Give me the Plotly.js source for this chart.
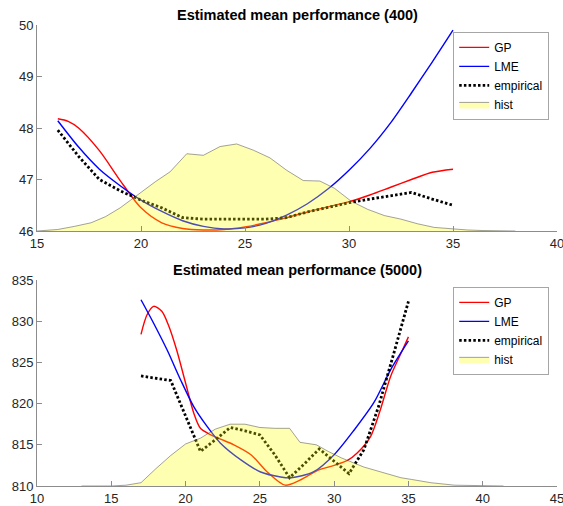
<!DOCTYPE html>
<html>
<head>
<meta charset="utf-8">
<script src="https://cdn.plot.ly/plotly-3.0.1.min.js"></script>
<style>html,body{margin:0;padding:0;background:#fff;}#chart{width:563px;height:506px;}</style>
</head>
<body>
<div id="chart"></div>
<script>
// ---- Top panel (400) ----
const gpX400 = [16, 16.5, 17, 18, 19, 20, 21, 22, 23, 24, 25, 26, 27, 28, 29, 30, 31, 32, 33, 34, 35];
const gpY400 = [48.18, 48.13, 48.0, 47.56, 46.98, 46.45, 46.16, 46.05, 46.02, 46.03, 46.08, 46.16, 46.26, 46.37, 46.47, 46.57, 46.70, 46.85, 47.0, 47.14, 47.2];
const lmeX400 = [16, 17, 18, 19, 20, 21, 22, 23, 24, 25, 26, 27, 28, 29, 30, 31, 32, 33, 34, 35];
const lmeY400 = [48.14, 47.63, 47.2, 46.88, 46.6, 46.38, 46.2, 46.09, 46.04, 46.06, 46.15, 46.31, 46.53, 46.82, 47.18, 47.6, 48.1, 48.68, 49.28, 49.9];
const empX400 = [16, 17, 18, 19, 20, 21, 22, 23, 24, 25, 26, 27, 28, 29, 30, 31, 32, 33, 34, 35];
const empY400 = [47.96, 47.45, 47.0, 46.78, 46.6, 46.45, 46.26, 46.23, 46.23, 46.23, 46.23, 46.26, 46.37, 46.46, 46.55, 46.62, 46.68, 46.75, 46.62, 46.5];
const histX400 = [15, 16, 16.8, 17.6, 18.3, 19.0, 19.9, 20.7, 21.4, 22.2, 23.0, 23.8, 24.6, 25.4, 26.2, 27.0, 27.8, 28.6, 29.3, 30.1, 30.9, 31.7, 32.5, 33.3, 34.1, 34.9, 35.7, 36.4, 37.2, 38.0];
const histY400 = [46.0, 46.03, 46.09, 46.16, 46.28, 46.45, 46.72, 46.96, 47.15, 47.5, 47.47, 47.64, 47.69, 47.57, 47.42, 47.18, 46.98, 46.97, 46.83, 46.58, 46.42, 46.30, 46.23, 46.14, 46.07, 46.04, 46.02, 46.01, 46.0, 46.0];

// ---- Bottom panel (5000) ----
const gpX5000 = [17, 17.4, 17.85, 18.4, 18.85, 19.4, 20.0, 20.56, 21.0, 21.7, 22.35, 23.25, 24.4, 25.5, 26.7, 27.7, 28.9, 30.0, 30.9, 31.55, 32.45, 33.1, 33.8, 34.5, 35];
const gpY5000 = [828.4, 830.75, 831.8, 831.2, 829.5, 826.5, 822.5, 818.8, 817.0, 816.2, 815.7, 815.0, 813.8, 811.7, 810.1, 810.7, 811.9, 812.5, 813.1, 814.0, 816.0, 819.2, 823.3, 826.1, 828.1];
const lmeX5000 = [17, 17.85, 18.76, 19.66, 20.56, 21.46, 22.35, 23.7, 25.05, 26.4, 27.1, 28.6, 30.0, 31.35, 32.7, 33.8, 35];
const lmeY5000 = [832.6, 829.75, 826.5, 822.9, 819.6, 817.2, 815.2, 813.2, 811.7, 811.1, 811.0, 811.7, 813.8, 816.8, 820.2, 824.1, 827.6];
const empX5000 = [17, 18, 19, 20, 21, 22, 23, 24, 25, 26, 27, 28, 29, 30, 31, 32, 33, 34, 35];
const empY5000 = [823.35, 823.1, 822.8, 818.5, 814.2, 815.6, 817.1, 816.7, 816.2, 813.8, 811.0, 812.7, 814.5, 813.0, 811.5, 814.4, 819.7, 826.0, 832.4];
const histX5000 = [13, 15, 16, 17, 18, 19, 20, 21, 22, 23, 24, 25, 26, 27, 27.7, 28.8, 29.6, 30.5, 32, 33.3, 34.5, 35.2, 36.5, 38.1, 39.5, 41.4];
const histY5000 = [810, 810, 810.1, 810.4, 812.1, 813.7, 815.1, 815.8, 816.9, 817.5, 817.5, 817.1, 817.0, 817.0, 815.3, 815.0, 814.2, 813.4, 812.3, 811.6, 811.0, 810.8, 810.4, 810.1, 810.05, 810];

const seriesNames = ['GP', 'LME', 'empirical', 'hist'];
const titles = ['Estimated mean performance (400)', 'Estimated mean performance (5000)'];

const FONT = 'Liberation Sans, Arial, Helvetica, sans-serif';
const histFill = 'rgba(255,255,0,0.3)';
const histEdge = 'rgba(60,60,60,0.6)';
const dotDash = '2.5px,2.2px';

function panel(xa, ya, leg, gx, gy, lx, ly, ex, ey, hx, hy) {
  return [
    {x: gx, y: gy, xaxis: xa, yaxis: ya, legend: leg, name: seriesNames[0], mode: 'lines',
     line: {color: '#ff0000', width: 1.4, shape: 'spline', smoothing: 0.8}},
    {x: lx, y: ly, xaxis: xa, yaxis: ya, legend: leg, name: seriesNames[1], mode: 'lines',
     line: {color: '#0000ff', width: 1.4, shape: 'spline', smoothing: 0.8}},
    {x: ex, y: ey, xaxis: xa, yaxis: ya, legend: leg, name: seriesNames[2], mode: 'lines',
     line: {color: '#000000', width: 2.8, dash: dotDash}},
    {x: hx, y: hy, xaxis: xa, yaxis: ya, legend: leg, name: seriesNames[3], mode: 'lines',
     fill: 'tozeroy', fillcolor: histFill, line: {color: histEdge, width: 0.8}}
  ];
}

const data = [].concat(
  panel('x', 'y', 'legend', gpX400, gpY400, lmeX400, lmeY400, empX400, empY400, histX400, histY400),
  panel('x2', 'y2', 'legend2', gpX5000, gpY5000, lmeX5000, lmeY5000, empX5000, empY5000, histX5000, histY5000)
);

const axBase = {
  showgrid: false, zeroline: false, showline: true, linecolor: '#8c8c8c', linewidth: 1,
  ticks: 'inside', ticklen: 5, tickcolor: '#8c8c8c', tickwidth: 1, ticklabeloverflow: 'allow',
  tickfont: {family: FONT, size: 13, color: '#262626'}, mirror: false, fixedrange: true
};

const legBase = {
  bgcolor: '#ffffff', bordercolor: '#a6a6a6', borderwidth: 1,
  font: {family: FONT, size: 12, color: '#000'}, itemwidth: 30, tracegroupgap: 0,
  xanchor: 'right', yanchor: 'top', traceorder: 'normal'
};

const layout = {
  width: 563, height: 506,
  margin: {l: 37, r: 6, t: 25, b: 20},
  paper_bgcolor: '#ffffff', plot_bgcolor: '#ffffff',
  showlegend: true,
  xaxis: Object.assign({}, axBase, {domain: [0, 1], range: [15, 40], dtick: 5, tick0: 15, anchor: 'y'}),
  yaxis: Object.assign({}, axBase, {domain: [0.5531, 1], range: [46, 50], dtick: 1, anchor: 'x'}),
  xaxis2: Object.assign({}, axBase, {domain: [0, 1], range: [10, 45], dtick: 5, tick0: 10, anchor: 'y2'}),
  yaxis2: Object.assign({}, axBase, {domain: [0, 0.4469], range: [810, 835], dtick: 5, anchor: 'x2'}),
  legend: Object.assign({}, legBase, {x: 0.985, y: 0.985}),
  legend2: Object.assign({}, legBase, {x: 0.985, y: 0.432}),
  annotations: [
    {text: '<b>' + titles[0] + '</b>', xref: 'paper', yref: 'paper', x: 0.5, y: 1, xanchor: 'center', yanchor: 'bottom',
     yshift: 0, showarrow: false, font: {family: FONT, size: 14.5, color: '#000'}},
    {text: '<b>' + titles[1] + '</b>', xref: 'paper', yref: 'paper', x: 0.5, y: 0.4469, xanchor: 'center', yanchor: 'bottom',
     yshift: 0, showarrow: false, font: {family: FONT, size: 14.5, color: '#000'}}
  ]
};

Plotly.newPlot('chart', data, layout, {staticPlot: true, displayModeBar: false});
</script>
</body>
</html>
